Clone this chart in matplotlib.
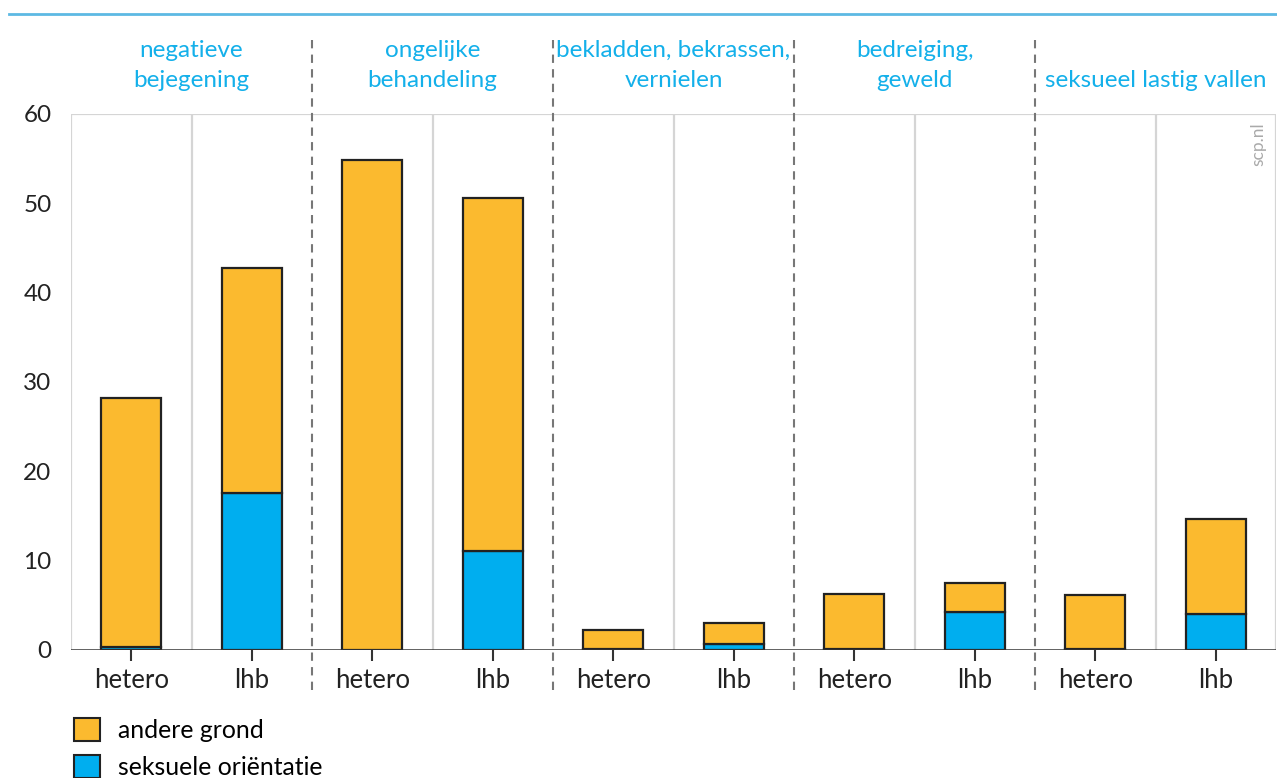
import matplotlib
matplotlib.use("Agg")
import matplotlib.pyplot as plt
from matplotlib.patches import Patch
import numpy as np

groups = ["negatieve\nbejegening", "ongelijke\nbehandeling",
          "bekladden, bekrassen,\nvernielen", "bedreiging,\ngeweld",
          "seksueel lastig vallen"]
bar_labels = ["hetero", "lhb"] * 5
seksuele = [0.3, 17.6, 0.0, 11.1, 0.1, 0.7, 0.1, 4.3, 0.1, 4.0]
totaal = [28.2, 42.8, 54.8, 50.6, 2.2, 3.0, 6.3, 7.5, 6.2, 14.7]
andere = [t - s for t, s in zip(totaal, seksuele)]

ORANGE = "#FBBA2F"
BLUE = "#00AEEF"
HEAD = "#14B0EA"
EDGE = "#222222"

plt.rcParams['font.family'] = ['Lato', 'DejaVu Sans']

fig = plt.figure(figsize=(12.77, 7.78), dpi=100)
ax = fig.add_axes([71 / 1277, 1 - 650 / 778, 1205 / 1277, 536 / 778])

x = np.arange(len(totaal)) + 0.5
ax.bar(x, seksuele, width=0.5, color=BLUE, edgecolor=EDGE, lw=1.6, zorder=3)
ax.bar(x, andere, bottom=seksuele, width=0.5, color=ORANGE, edgecolor=EDGE,
       lw=1.6, zorder=3)

ax.set_xlim(0, 10)
ax.set_ylim(0, 60)
ax.set_yticks(range(0, 61, 10))
ax.set_yticklabels([str(v) for v in range(0, 61, 10)], fontsize=17.5, color="#222222")
ax.set_xticks(x)
ax.set_xticklabels(bar_labels, fontsize=18.5, color="#222222")
ax.tick_params(axis='x', length=8, width=1.5, color="#333333", pad=5)
ax.tick_params(axis='y', length=0, pad=14)

# light grid lines between bars
for xv in [0, 1, 3, 5, 7, 9, 10]:
    ax.axvline(xv, color="#D5D5D5", lw=1.6, zorder=1)
ax.axhline(60, color="#D5D5D5", lw=1.6, zorder=1)
for s in ax.spines.values():
    s.set_visible(False)
ax.axhline(0, color="#333333", lw=1.8, zorder=4)

# dashed separators between groups, reaching into header and labels
for xv in [2, 4, 6, 8]:
    ax.plot([xv, xv], [-4.5, 68.5], ls=(0, (4, 3)), color="#777777", lw=1.5,
            clip_on=False, zorder=2)

# group headers
for i, g in enumerate(groups):
    ax.text(2 * i + 1, 62.6, g, ha='center', va='bottom', fontsize=17.5,
            color=HEAD, linespacing=1.5)

ax.text(0.992, 0.985, "scp.nl", transform=ax.transAxes, rotation=90,
        ha='right', va='top', fontsize=12.5, color="#AAAAAA")

# top rule
fig.add_artist(plt.Line2D([9 / 1277, 1], [1 - 14 / 778] * 2, color="#5DB9E3",
                          lw=2))

handles = [Patch(facecolor=ORANGE, edgecolor=EDGE, lw=1.5, label="andere grond"),
           Patch(facecolor=BLUE, edgecolor=EDGE, lw=1.5, label="seksuele oriëntatie")]
fig.legend(handles=handles, loc='upper left', bbox_to_anchor=(64 / 1277, 1 - 708 / 778),
           frameon=False, fontsize=17.8, handlelength=1.05, handleheight=1.05,
           labelspacing=0.55, handletextpad=0.75, borderaxespad=0)

fig.savefig("out.png", dpi=100)
